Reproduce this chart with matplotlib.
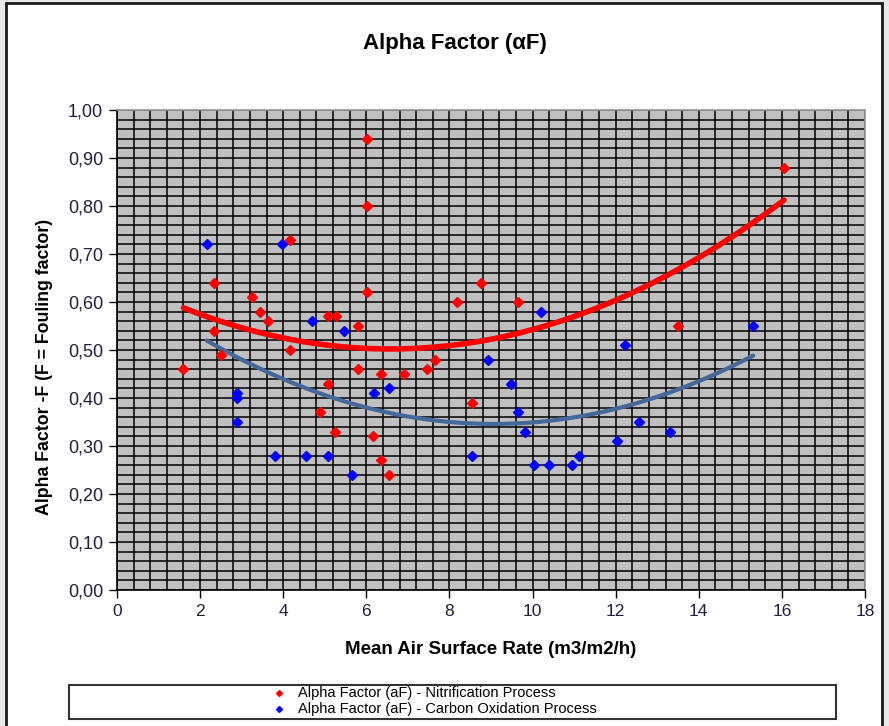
import matplotlib
matplotlib.use("Agg")
import matplotlib.pyplot as plt
import matplotlib.ticker as mticker
from matplotlib.patches import Rectangle
import numpy as np

# Nitrification process (red diamonds)
nit_x = [1.60, 2.33, 2.34, 2.50, 3.24, 3.44, 3.63, 4.17, 4.16, 4.88, 5.07,
         5.07, 5.26, 5.25, 5.79, 5.79, 6.01, 6.01, 6.01, 6.17, 6.35, 6.35,
         6.54, 6.90, 7.47, 7.65, 8.19, 8.55, 8.76, 9.66, 13.50, 16.05]
nit_y = [0.46, 0.64, 0.54, 0.49, 0.61, 0.58, 0.56, 0.73, 0.50, 0.37, 0.43,
         0.57, 0.57, 0.33, 0.55, 0.46, 0.94, 0.80, 0.62, 0.32, 0.45, 0.27,
         0.24, 0.45, 0.46, 0.48, 0.60, 0.39, 0.64, 0.60, 0.55, 0.88]

# Carbon oxidation process (blue diamonds)
carb_x = [2.16, 2.88, 2.88, 2.88, 3.80, 3.96, 4.54, 4.70, 5.07, 5.46, 5.65,
          6.18, 6.54, 8.55, 8.92, 9.49, 9.66, 9.82, 10.03, 10.21, 10.39,
          10.94, 11.12, 12.04, 12.22, 12.57, 13.31, 15.31]
carb_y = [0.72, 0.41, 0.40, 0.35, 0.28, 0.72, 0.28, 0.56, 0.28, 0.54, 0.24,
          0.41, 0.42, 0.28, 0.48, 0.43, 0.37, 0.33, 0.26, 0.58, 0.26,
          0.26, 0.28, 0.31, 0.51, 0.35, 0.33, 0.55]

labels = ["Alpha Factor (aF) - Nitrification Process",
          "Alpha Factor (aF) - Carbon Oxidation Process"]

RED = "#ff0000"
BLUE = "#0000ff"
TREND_BLUE = "#44689a"
PLOT_BG = "#c0c0c0"
TICK_INK = "#1f1f3f"

plt.rcParams["font.family"] = ["Liberation Sans", "DejaVu Sans"]

W, H = 889, 726
fig = plt.figure(figsize=(W / 100, H / 100), dpi=100)
fig.patch.set_facecolor("#e8e8e8")
# white chart area with dark frame
fig.patches.append(Rectangle((6 / W, -0.02), (882 - 6) / W, (H - 3) / H + 0.02,
                             transform=fig.transFigure, facecolor="white",
                             edgecolor="#1a1a1a", lw=2, zorder=-5))

ax = fig.add_axes([117 / W, (H - 590) / H, (865 - 117) / W, (590 - 110) / H])
ax.set_zorder(2)
ax.set_facecolor(PLOT_BG)
ax.set_xlim(0, 18)
ax.set_ylim(0, 1)

ax.xaxis.set_major_locator(mticker.MultipleLocator(2))
ax.xaxis.set_minor_locator(mticker.MultipleLocator(0.4))
ax.yaxis.set_major_locator(mticker.MultipleLocator(0.1))
ax.yaxis.set_minor_locator(mticker.MultipleLocator(0.02))
ax.yaxis.set_major_formatter(mticker.FuncFormatter(lambda v, p: f"{v:.2f}".replace(".", ",")))
ax.grid(True, which="both", color="black", lw=1.1)
ax.set_axisbelow(True)

ax.tick_params(which="major", direction="out", length=6, width=1, color="black",
               labelcolor=TICK_INK, pad=4)
ax.tick_params(axis="y", labelsize=13)
ax.tick_params(axis="x", labelsize=12.5)
ax.tick_params(which="minor", length=0)
for side in ("left", "bottom"):
    ax.spines[side].set_color("black")
    ax.spines[side].set_linewidth(1.2)
for side in ("top", "right"):
    ax.spines[side].set_color("#9a9a9a")
    ax.spines[side].set_linewidth(1.2)

# polynomial trend lines (order 2), as in the spreadsheet
for xs, ys, col, lw in ((nit_x, nit_y, RED, 4), (carb_x, carb_y, TREND_BLUE, 3)):
    coef = np.polyfit(xs, ys, 2)
    xx = np.linspace(min(xs), max(xs), 200)
    ax.plot(xx, np.polyval(coef, xx), color=col, lw=lw, zorder=3,
            solid_capstyle="round")

ax.plot(nit_x, nit_y, "D", color=RED, ms=5, mec=RED, zorder=4)
ax.plot(carb_x, carb_y, "D", color=BLUE, ms=5, mec=BLUE, zorder=4)

fig.text(455 / W, 1 - 43 / H, "Alpha Factor (αF)", ha="center", va="center",
         fontsize=16, fontweight="bold")
fig.text(491 / W, 1 - 650 / H, "Mean Air Surface Rate (m3/m2/h)", ha="center",
         va="center", fontsize=13.5, fontweight="bold")
fig.text(45 / W, 1 - 367 / H, "Alpha Factor -F (F = Fouling factor)", ha="center",
         va="center", rotation=90, fontsize=12.8, fontweight="bold")

# legend box
fig.patches.append(Rectangle((69 / W, 1 - 719 / H), (836 - 69) / W, (719 - 685) / H,
                             transform=fig.transFigure, facecolor="white",
                             edgecolor="#333333", lw=1.5, zorder=1))
for i, (lab, col) in enumerate(zip(labels, (RED, BLUE))):
    yy = 1 - (693 + i * 16) / H
    fig.lines.append(plt.Line2D([279 / W], [yy], transform=fig.transFigure,
                                marker="D", ms=3, color=col, ls="none", zorder=2))
    fig.text(298 / W, yy, lab, ha="left", va="center", fontsize=10.5, zorder=2)

fig.savefig("out.png", dpi=100)
